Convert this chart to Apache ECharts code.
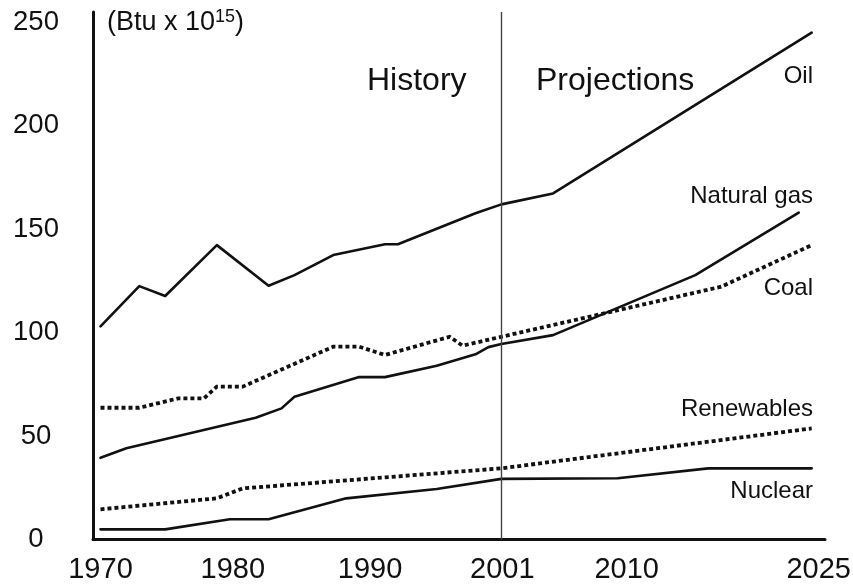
<!DOCTYPE html>
<html>
<head>
<meta charset="utf-8">
<script src="https://cdn.jsdelivr.net/npm/echarts@6/dist/echarts.min.js"></script>
<style>
  html, body { margin: 0; padding: 0; background: #fff; }
  #chart { width: 853px; height: 586px; }
</style>
</head>
<body>
<div id="chart"></div>
<script>
// World energy consumption by source, history and projections (quadrillion Btu)
const yearLabels = [1970, 1980, 1990, 2001, 2010, 2025];
const valueTicks = [0, 50, 100, 150, 200, 250];
const splitYear = 2001;

const oil = [
  [1970, 103], [1973, 122.5], [1975, 117.7], [1979, 142.3], [1983, 122.7],
  [1985, 127.8], [1988, 137.5], [1992, 142.7], [1993, 142.7], [1999, 157.7],
  [2001, 162], [2005, 167.3], [2025, 245]
];
const naturalGas = [
  [1970, 39.5], [1972, 44.1], [1982, 58.9], [1984, 63.4], [1985, 69],
  [1990, 78.5], [1992, 78.5], [1996, 84], [1999, 89.5], [2000, 93],
  [2001, 94.5], [2005, 98.8], [2016, 127.8], [2024, 158]
];
const coal = [
  [1970, 63.7], [1973, 63.7], [1976, 68.2], [1978, 68.2], [1979, 73.9],
  [1981, 73.9], [1988, 93.2], [1990, 93.2], [1992, 89.2], [1997, 98],
  [1998, 93.7], [2001, 98], [2018, 122.2], [2025, 142.3]
];
const renewables = [
  [1970, 14.6], [1979, 19.9], [1981, 24.7], [2001, 34.4], [2025, 53.7]
];
const nuclear = [
  [1970, 4.9], [1975, 4.9], [1980, 9.8], [1983, 9.8], [1989, 19.9],
  [1996, 24.4], [2001, 29.3], [2010, 29.6], [2017, 34.4], [2025, 34.4]
];

const FONT = '"Liberation Sans", Arial, sans-serif';
const INK = '#111';

// Small horizontal nudges for the year labels (left padding, label stays centred)
const yearLabelPad = { 1970: 0, 1980: 6, 1990: 22, 2001: 2, 2010: 18, 2025: 14 };
const yearRich = {};
Object.keys(yearLabelPad).forEach(k => {
  yearRich['y' + k] = { fontSize: 29, fontFamily: FONT, color: INK, padding: [0, 0, 0, yearLabelPad[k]] };
});

function solid(name, data) {
  return {
    name, type: 'line', data, symbol: 'none', smooth: false, silent: true,
    lineStyle: { color: INK, width: 2.6, cap: 'round', join: 'round' }
  };
}
function dotted(name, data) {
  return {
    name, type: 'line', data, symbol: 'none', smooth: false, silent: true,
    lineStyle: { color: INK, width: 3.8, type: [4, 3], cap: 'butt', join: 'miter' }
  };
}

const chart = echarts.init(document.getElementById('chart'), null, { renderer: 'canvas' });

const oilSeries = solid('Oil', oil);
oilSeries.markLine = {
  silent: true,
  symbol: 'none',
  label: { show: false },
  lineStyle: { color: '#444', width: 1.4, type: 'solid' },
  data: [{ xAxis: splitYear }]
};

chart.setOption({
  animation: false,
  backgroundColor: '#fff',
  textStyle: { fontFamily: FONT },
  grid: { left: 93, right: 28, top: 12, bottom: 46.5, containLabel: false, outerBoundsMode: 'none' },
  xAxis: {
    type: 'value',
    min: 1969.42,
    max: 2026.03,
    axisLine: { show: true, lineStyle: { color: INK, width: 3 } },
    axisTick: { show: false },
    splitLine: { show: false },
    axisLabel: {
      customValues: yearLabels,
      color: INK, fontSize: 29, fontFamily: FONT, margin: 16,
      formatter: v => '{y' + v + '|' + v + '}',
      rich: yearRich
    }
  },
  yAxis: {
    type: 'value',
    min: 0,
    max: 255,
    axisLine: { show: true, lineStyle: { color: INK, width: 3 } },
    axisTick: { show: false },
    splitLine: { show: false },
    axisLabel: {
      customValues: valueTicks,
      color: INK, fontSize: 27.5, fontFamily: FONT, margin: 57, align: 'center',
      formatter: v => String(v)
    }
  },
  series: [
    oilSeries,
    solid('Natural gas', naturalGas),
    dotted('Coal', coal),
    dotted('Renewables', renewables),
    solid('Nuclear', nuclear)
  ],
  graphic: [
    {
      type: 'text', left: 107, top: 8, silent: true,
      style: {
        text: '(Btu x 10{sup|15})',
        font: '27px ' + FONT, fill: INK,
        rich: { sup: { fontSize: 18, fontFamily: FONT, fill: INK, padding: [0, 0, 11, 0] } }
      }
    },
    { type: 'text', left: 367, top: 65, silent: true, style: { text: 'History', font: '32px ' + FONT, fill: INK } },
    { type: 'text', left: 536, top: 65, silent: true, style: { text: 'Projections', font: '32px ' + FONT, fill: INK } },
    { type: 'text', right: 40, top: 64, silent: true, style: { text: 'Oil', font: '24px ' + FONT, fill: INK } },
    { type: 'text', right: 40, top: 184, silent: true, style: { text: 'Natural gas', font: '24px ' + FONT, fill: INK } },
    { type: 'text', right: 40, top: 276, silent: true, style: { text: 'Coal', font: '24px ' + FONT, fill: INK } },
    { type: 'text', right: 40, top: 397, silent: true, style: { text: 'Renewables', font: '24px ' + FONT, fill: INK } },
    { type: 'text', right: 40, top: 479, silent: true, style: { text: 'Nuclear', font: '24px ' + FONT, fill: INK } }
  ]
});
</script>
</body>
</html>
